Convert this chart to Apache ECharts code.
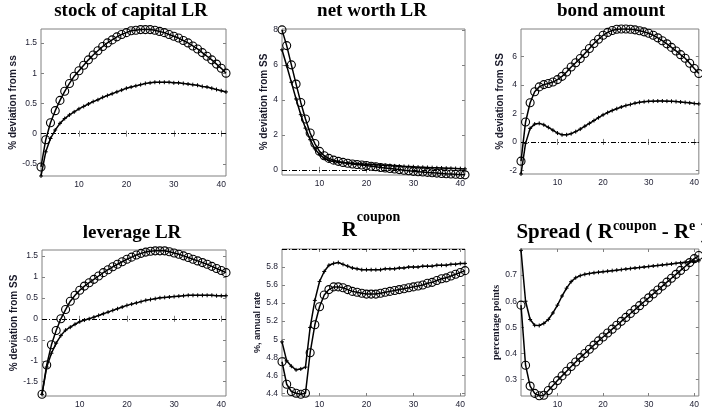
<!DOCTYPE html>
<html><head><meta charset="utf-8">
<script src="https://cdn.jsdelivr.net/npm/echarts@6/dist/echarts.min.js"></script>
<style>html,body{margin:0;padding:0;background:#fff}#c{width:702px;height:410px}</style>
</head><body><div id="c"></div>
<script>
// ---------- data ----------
const periods = [2,3,4,5,6,7,8,9,10,11,12,13,14,15,16,17,18,19,20,21,22,23,24,25,26,27,28,29,30,31,32,33,34,35,36,37,38,39,40,41];
const xTicks = [10,20,30,40];

const capitalCirc = [-0.55,-0.10,0.18,0.38,0.55,0.70,0.83,0.95,1.04,1.13,1.22,1.30,1.37,1.44,1.50,1.55,1.60,1.64,1.67,1.70,1.71,1.72,1.72,1.72,1.71,1.69,1.67,1.64,1.61,1.58,1.54,1.50,1.45,1.40,1.34,1.28,1.22,1.15,1.08,1.00];
const capitalCross = [-0.70,-0.30,-0.08,0.06,0.17,0.25,0.31,0.36,0.41,0.45,0.49,0.53,0.56,0.60,0.63,0.66,0.69,0.72,0.75,0.77,0.79,0.81,0.83,0.84,0.85,0.85,0.85,0.85,0.84,0.84,0.83,0.82,0.81,0.80,0.78,0.77,0.75,0.73,0.71,0.69];
const capitalTicks = [-0.5,0,0.5,1,1.5];

const worthCirc = [8.0,7.1,6.0,4.9,3.85,2.9,2.1,1.5,1.05,0.8,0.65,0.55,0.48,0.42,0.37,0.33,0.30,0.27,0.24,0.20,0.17,0.13,0.10,0.07,0.04,0.01,-0.03,-0.06,-0.09,-0.11,-0.13,-0.15,-0.17,-0.19,-0.21,-0.23,-0.24,-0.26,-0.27,-0.29];
const worthCross = [6.86,5.95,5.0,4.05,3.15,2.38,1.72,1.2,0.87,0.66,0.53,0.47,0.43,0.41,0.39,0.37,0.35,0.33,0.31,0.30,0.28,0.27,0.25,0.24,0.22,0.21,0.19,0.18,0.17,0.15,0.14,0.13,0.12,0.11,0.10,0.09,0.08,0.07,0.06,0.05];
const worthTicks = [0,2,4,6,8];

const bondCirc = [-1.35,1.4,2.75,3.52,3.86,4.02,4.1,4.2,4.37,4.6,4.9,5.25,5.55,5.85,6.2,6.55,6.9,7.2,7.48,7.68,7.82,7.9,7.92,7.92,7.9,7.86,7.8,7.72,7.62,7.48,7.3,7.1,6.88,6.63,6.38,6.12,5.87,5.52,5.15,4.8];
const bondCross = [-2.25,-0.1,0.95,1.25,1.3,1.2,1.02,0.82,0.62,0.5,0.5,0.58,0.72,0.9,1.1,1.3,1.5,1.7,1.9,2.06,2.2,2.33,2.45,2.55,2.63,2.72,2.78,2.82,2.85,2.86,2.87,2.87,2.86,2.85,2.83,2.8,2.77,2.74,2.7,2.67];
const bondTicks = [-2,0,2,4,6];

const leverageCirc = [-1.8,-1.1,-0.62,-0.28,0.0,0.22,0.42,0.56,0.68,0.78,0.86,0.94,1.02,1.1,1.17,1.24,1.3,1.36,1.42,1.47,1.52,1.56,1.59,1.61,1.62,1.62,1.62,1.6,1.57,1.54,1.5,1.46,1.42,1.38,1.34,1.3,1.25,1.2,1.15,1.1];
const leverageCross = [-1.8,-1.15,-0.82,-0.58,-0.4,-0.27,-0.2,-0.13,-0.07,-0.03,0.0,0.04,0.08,0.12,0.16,0.2,0.24,0.28,0.32,0.35,0.38,0.41,0.44,0.46,0.48,0.5,0.51,0.52,0.53,0.54,0.55,0.56,0.56,0.56,0.56,0.56,0.56,0.55,0.55,0.55];
const leverageTicks = [-1.5,-1,-0.5,0,0.5,1,1.5];

const couponCirc = [4.75,4.5,4.42,4.4,4.39,4.4,4.85,5.16,5.36,5.49,5.55,5.58,5.58,5.57,5.55,5.53,5.52,5.51,5.5,5.5,5.5,5.51,5.52,5.53,5.54,5.55,5.56,5.57,5.58,5.59,5.6,5.62,5.63,5.65,5.67,5.68,5.7,5.72,5.74,5.76];
const couponCross = [4.97,4.76,4.7,4.66,4.67,4.69,5.13,5.43,5.64,5.75,5.82,5.84,5.85,5.83,5.81,5.79,5.78,5.77,5.77,5.77,5.77,5.77,5.78,5.78,5.78,5.79,5.79,5.8,5.8,5.8,5.81,5.81,5.81,5.82,5.82,5.82,5.83,5.83,5.84,5.84];
const couponTicks = [4.4,4.6,4.8,5,5.2,5.4,5.6,5.8];

const spreadCirc = [0.585,0.355,0.275,0.247,0.238,0.24,0.258,0.277,0.296,0.314,0.332,0.35,0.367,0.384,0.4,0.416,0.432,0.448,0.463,0.478,0.493,0.508,0.523,0.538,0.553,0.568,0.583,0.598,0.613,0.628,0.643,0.658,0.673,0.688,0.703,0.718,0.733,0.748,0.763,0.775];
const spreadCross = [0.795,0.6,0.53,0.508,0.507,0.515,0.53,0.555,0.585,0.62,0.65,0.675,0.69,0.698,0.703,0.706,0.709,0.711,0.713,0.715,0.717,0.719,0.721,0.723,0.725,0.727,0.729,0.731,0.733,0.735,0.737,0.739,0.741,0.743,0.745,0.747,0.749,0.751,0.753,0.755];
const spreadTicks = [0.3,0.4,0.5,0.6,0.7];

const refCapital = 0, refWorth = 0, refBond = 0, refLeverage = 0, refCoupon = 6.0;

// ---------- layout ----------
const SERIF = "'Liberation Serif', 'DejaVu Serif', serif";
const SANS = "'Liberation Sans', Arial, sans-serif";
const panels = [
  {grid:{left:41,top:29,width:185,height:147}, yMin:-0.70, yMax:1.73, ticks:capitalTicks, circ:capitalCirc, cross:capitalCross, ref:refCapital,
   name:'% deviation from ss', nameGap:22, nameFont:SANS, nameSize:10},
  {grid:{left:282,top:29,width:183,height:146}, yMin:-0.30, yMax:8.05, ticks:worthTicks, circ:worthCirc, cross:worthCross, ref:refWorth,
   name:'% deviation from SS', nameGap:12, nameFont:SANS, nameSize:10},
  {grid:{left:521,top:29,width:183,height:145}, yMin:-2.25, yMax:7.92, ticks:bondTicks, circ:bondCirc, cross:bondCross, ref:refBond,
   name:'% deviation from SS', nameGap:14, nameFont:SANS, nameSize:10},
  {grid:{left:42,top:250,width:184,height:146}, yMin:-1.84, yMax:1.64, ticks:leverageTicks, circ:leverageCirc, cross:leverageCross, ref:refLeverage,
   name:'% deviation from SS', nameGap:22, nameFont:SANS, nameSize:10},
  {grid:{left:282,top:249,width:183,height:147}, yMin:4.37, yMax:6.0, ticks:couponTicks, circ:couponCirc, cross:couponCross, ref:refCoupon,
   name:'%, annual rate', nameGap:20, nameFont:SANS, nameSize:9},
  {grid:{left:521,top:249,width:183,height:147}, yMin:0.237, yMax:0.80, ticks:spreadTicks, circ:spreadCirc, cross:spreadCross, ref:null,
   name:'percentage points', nameGap:16, nameFont:SERIF, nameSize:10}
];

const titleBase = {fontFamily:SERIF, fontWeight:'bold', color:'#000'};
const titles = [
  {text:'stock of capital LR', left:131, top:2, textStyle:Object.assign({fontSize:19}, titleBase)},
  {text:'net worth LR', left:372, top:2, textStyle:Object.assign({fontSize:19}, titleBase)},
  {text:'bond amount', left:611, top:2, textStyle:Object.assign({fontSize:19}, titleBase)},
  {text:'leverage LR', left:132, top:224, textStyle:Object.assign({fontSize:19}, titleBase)},
  {text:'{b|R}{s|coupon}', left:371, top:210, textStyle:Object.assign({rich:{
      b:Object.assign({fontSize:21, verticalAlign:'bottom'}, titleBase),
      s:Object.assign({fontSize:14, verticalAlign:'top', padding:[0,0,17,0]}, titleBase)}}, titleBase)},
  {text:'{b|Spread ( R}{s|coupon}{b| - R}{s|e}{b| )}', left:612, top:219, textStyle:Object.assign({rich:{
      b:Object.assign({fontSize:21, verticalAlign:'bottom'}, titleBase),
      s:Object.assign({fontSize:14, verticalAlign:'top', padding:[0,0,10,0]}, titleBase)}}, titleBase)}
].map(t => Object.assign({textAlign:'center', padding:0, itemGap:0}, t));

const tickColor = '#1c1c30';
const boxColor = '#808080';
const grids = [], xAxes = [], yAxes = [], series = [];
panels.forEach((p, i) => {
  grids.push(Object.assign({show:true, borderColor:boxColor, borderWidth:1, containLabel:false}, p.grid));
  const xBase = {gridIndex:i, type:'value', min:2, max:41, splitLine:{show:false}, axisLine:{show:false}};
  xAxes.push(Object.assign({}, xBase, {position:'bottom',
    axisTick:{show:true, inside:true, length:3, customValues:xTicks, lineStyle:{color:boxColor}},
    axisLabel:{show:true, customValues:xTicks, fontSize:8.5, fontFamily:SANS, color:tickColor, margin:4}}));
  xAxes.push(Object.assign({}, xBase, {position:'top',
    axisTick:{show:true, inside:true, length:3, customValues:xTicks, lineStyle:{color:boxColor}},
    axisLabel:{show:false}}));
  const yBase = {gridIndex:i, type:'value', min:p.yMin, max:p.yMax, splitLine:{show:false}, axisLine:{show:false}};
  yAxes.push(Object.assign({}, yBase, {position:'left',
    axisTick:{show:true, inside:true, length:3, customValues:p.ticks, lineStyle:{color:boxColor}},
    axisLabel:{show:true, customValues:p.ticks, fontSize:8.5, fontFamily:SANS, color:tickColor, margin:4},
    name:p.name, nameLocation:'middle', nameGap:p.nameGap,
    nameTextStyle:{fontFamily:p.nameFont, fontWeight:'bold', fontSize:p.nameSize, color:'#1a1a2a'}}));
  yAxes.push(Object.assign({}, yBase, {position:'right',
    axisTick:{show:true, inside:true, length:3, customValues:p.ticks, lineStyle:{color:boxColor}},
    axisLabel:{show:false}}));
  const circSeries = {
    type:'line', xAxisIndex:2*i, yAxisIndex:2*i,
    data:periods.map((x, k) => [x, p.circ[k]]),
    symbol:'circle', symbolSize:8, showSymbol:true, showAllSymbol:true,
    lineStyle:{color:'#000', width:1.5},
    itemStyle:{color:'rgba(0,0,0,0)', borderColor:'#000', borderWidth:1.1},
    silent:true, z:3
  };
  if (p.ref !== null) {
    circSeries.markLine = {silent:true, symbol:['none','none'], animation:false,
      label:{show:false}, lineStyle:{color:'#000', width:1, type:[5,2,1,2]},
      data:[{yAxis:p.ref}]};
  }
  series.push(circSeries);
  series.push({
    type:'line', xAxisIndex:2*i, yAxisIndex:2*i,
    data:periods.map((x, k) => [x, p.cross[k]]),
    symbol:'path://M0,5L10,5M5,0L5,10', symbolSize:4, showSymbol:true, showAllSymbol:true,
    lineStyle:{color:'#000', width:1.5},
    itemStyle:{color:'#000', borderColor:'#000', borderWidth:1},
    silent:true, z:3
  });
});

const chart = echarts.init(document.getElementById('c'), null, {renderer:'canvas'});
chart.setOption({
  animation:false,
  backgroundColor:'#fff',
  title:titles,
  grid:grids, xAxis:xAxes, yAxis:yAxes, series:series
});
</script>
</body></html>
